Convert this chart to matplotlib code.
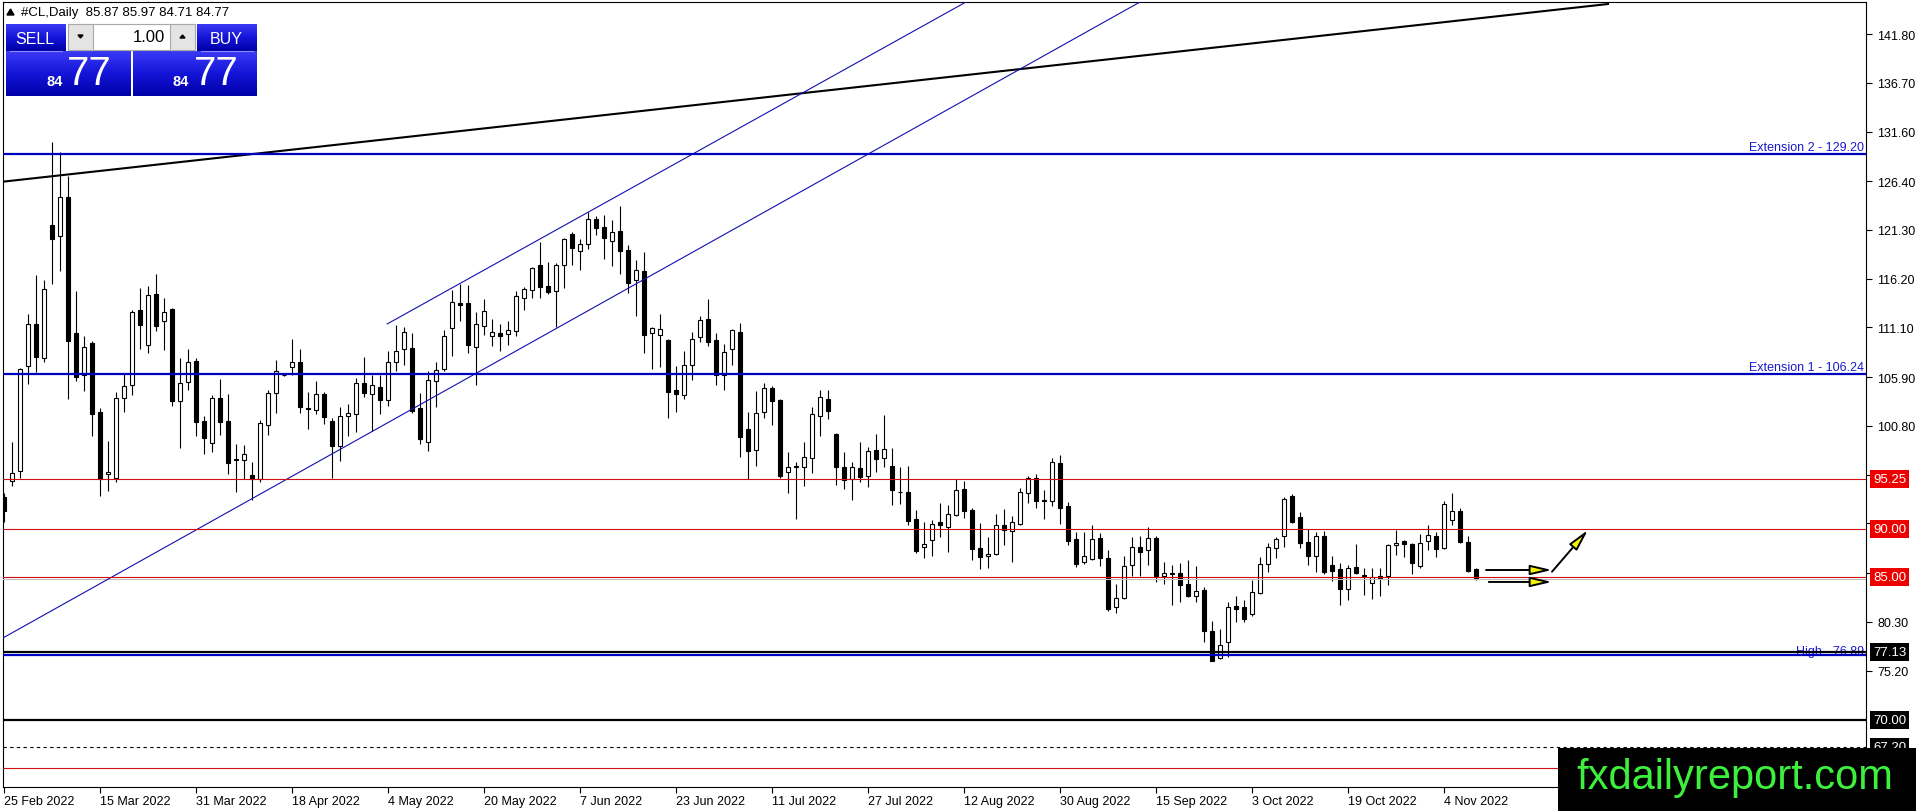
import matplotlib.pyplot as plt
import matplotlib.patches as patches
import matplotlib.transforms as mtransforms
import numpy as np

plt.rcParams['font.family'] = ['Liberation Sans', 'DejaVu Sans']

# Daily candles, #CL (bar 0 = 25 Feb 2022, bar 184 = 10 Nov 2022)
opens = [93.4, 95.0, 96.1, 107.1, 111.5, 107.9, 121.8, 120.7, 124.7, 110.5,
         106.1, 109.5, 102.3, 95.8, 95.4, 103.7, 105.1, 112.9, 109.3, 114.6,
         111.8, 113.0, 103.4, 105.4, 107.6, 101.3, 99.0, 103.7, 101.35, 97.3,
         97.2, 95.7, 95.25, 100.9, 104.2, 106.1, 107.0, 107.5, 102.7, 102.5,
         104.1, 101.35, 98.7, 101.8, 102.1, 105.3, 104.1, 104.9, 103.55, 107.5,
         108.8, 109.0, 102.7, 99.1, 105.5, 106.8, 111.0, 113.7, 113.7, 109.1,
         111.3, 110.2, 110.5, 110.45, 110.7, 114.2, 115.05, 117.6, 115.4, 114.9,
         117.6, 120.9, 119.1, 119.8, 122.5, 121.6, 120.2, 121.2, 119.2, 116.1,
         117.0, 110.5, 110.35, 109.8, 104.55, 104.0, 107.2, 110.1, 112.0, 109.8,
         106.1, 108.8, 110.6, 100.5, 98.3, 102.3, 104.8, 103.5, 96.0, 96.6,
         96.5, 97.45, 101.8, 103.6, 100.0, 96.5, 95.25, 96.4, 95.6, 98.3,
         97.4, 96.6, 93.9, 93.9, 91.1, 88.1, 88.9, 90.7, 90.2, 91.5,
         94.2, 92.0, 88.0, 87.2, 87.4, 90.4, 89.85, 90.55, 93.8, 95.4,
         93.1, 93.0, 96.9, 92.4, 89.0, 86.55, 86.9, 89.1, 87.0, 81.9,
         82.8, 86.3, 88.1, 87.8, 89.05, 85.15, 85.35, 85.4, 84.3, 83.05,
         83.65, 79.3, 76.5, 78.2, 81.95, 81.9, 81.1, 83.3, 86.4, 88.0,
         89.3, 93.45, 91.25, 88.7, 87.2, 89.25, 86.25, 85.85, 83.7, 86.0,
         85.15, 84.35, 85.1, 85.1, 88.3, 88.8, 88.45, 86.1, 88.75, 89.25,
         88.0, 91.0, 91.9, 88.65, 85.87]
highs = [93.8, 99.1, 106.9, 112.5, 116.6, 116.1, 130.5, 129.5, 126.9, 114.9,
         110.2, 109.7, 102.7, 99.2, 104.3, 106.2, 112.9, 115.2, 115.4, 116.7,
         114.2, 113.1, 107.9, 108.9, 107.9, 101.8, 104.0, 105.7, 104.1, 98.9,
         98.8, 97.0, 101.4, 104.6, 107.7, 106.3, 109.9, 108.9, 104.4, 105.5,
         104.3, 101.6, 102.8, 103.1, 105.8, 108.0, 106.1, 106.1, 108.6, 111.4,
         111.2, 110.5, 104.2, 106.5, 107.5, 110.8, 115.05, 115.6, 115.5, 112.7,
         114.1, 112.0, 111.5, 111.8, 114.9, 115.3, 117.4, 120.0, 118.0, 117.85,
         120.5, 121.1, 120.4, 123.2, 122.8, 122.9, 122.3, 123.8, 119.7, 118.2,
         119.0, 111.2, 112.5, 109.9, 107.1, 108.6, 110.6, 112.3, 114.1, 110.5,
         109.4, 110.9, 111.6, 102.3, 104.5, 105.3, 105.0, 103.6, 98.05, 97.0,
         99.1, 102.8, 104.6, 104.6, 100.1, 98.05, 97.0, 99.15, 98.6, 100.0,
         101.95, 98.5, 96.5, 96.6, 92.0, 90.8, 91.0, 92.7, 92.5, 95.2,
         95.0, 92.2, 90.65, 89.2, 91.6, 92.1, 91.4, 94.3, 95.6, 95.8,
         94.1, 97.45, 97.8, 92.8, 89.7, 89.7, 90.4, 89.6, 87.8, 84.3,
         87.2, 89.15, 89.3, 90.2, 89.3, 86.6, 86.3, 86.5, 86.8, 86.1,
         84.0, 80.4, 79.6, 82.4, 83.05, 82.6, 84.7, 87.1, 88.6, 89.15,
         93.4, 93.7, 91.8, 90.0, 89.7, 89.85, 87.2, 86.5, 86.3, 88.5,
         85.9, 85.95, 85.95, 88.45, 89.95, 88.9, 88.6, 89.5, 90.4, 89.75,
         92.9, 93.75, 92.2, 89.3, 85.97]
lows = [90.8, 94.5, 95.4, 105.2, 106.4, 107.5, 115.6, 117.0, 103.6, 105.5,
        104.5, 99.8, 93.5, 94.0, 94.9, 102.3, 104.0, 108.9, 108.4, 110.7,
        108.7, 102.9, 98.5, 104.6, 99.7, 97.9, 98.1, 99.85, 95.8, 93.9,
        95.3, 93.1, 94.9, 99.9, 102.2, 106.0, 106.1, 102.2, 100.5, 102.05,
        101.0, 95.4, 97.1, 99.8, 100.2, 103.8, 100.3, 102.1, 102.9, 106.5,
        107.2, 102.2, 98.9, 98.2, 102.75, 106.5, 108.15, 111.8, 108.4, 105.1,
        110.35, 109.2, 108.6, 109.3, 110.2, 112.9, 114.15, 114.2, 114.6, 111.2,
        115.2, 117.6, 117.15, 119.3, 120.8, 118.3, 117.5, 116.7, 114.7, 112.3,
        108.4, 106.8, 107.0, 101.6, 102.3, 103.6, 105.6, 109.6, 109.2, 105.1,
        104.6, 107.2, 97.5, 95.2, 96.6, 101.6, 100.9, 95.4, 93.8, 91.1,
        94.55, 95.9, 99.8, 101.5, 94.6, 94.2, 93.1, 94.9, 94.4, 96.0,
        96.5, 92.5, 92.6, 90.4, 87.5, 87.0, 87.2, 89.15, 87.65, 91.35,
        91.2, 86.8, 85.8, 85.9, 87.3, 88.35, 86.6, 90.4, 92.7, 92.2,
        91.1, 92.4, 90.55, 88.3, 86.0, 86.4, 86.8, 86.2, 81.4, 81.2,
        82.7, 85.1, 85.1, 86.3, 84.5, 84.3, 82.1, 82.4, 82.9, 82.4,
        78.2, 76.2, 76.4, 76.6, 80.3, 80.3, 80.9, 83.2, 85.5, 87.0,
        88.1, 90.6, 88.0, 86.3, 85.5, 85.3, 84.6, 82.1, 82.6, 85.3,
        83.1, 82.7, 83.05, 84.2, 87.3, 87.1, 85.3, 85.9, 87.8, 87.05,
        87.9, 90.45, 88.6, 85.55, 84.71]
closes = [91.9, 95.85, 106.8, 111.5, 108.05, 115.1, 120.4, 124.8, 109.7, 105.9,
          109.1, 102.0, 95.25, 96.0, 103.7, 105.0, 112.75, 111.4, 114.5, 111.3,
          112.75, 103.4, 105.3, 107.5, 101.2, 99.5, 103.7, 101.25, 96.9, 97.2,
          97.9, 95.2, 101.1, 104.25, 106.5, 106.15, 107.5, 102.75, 102.6, 104.1,
          101.7, 98.7, 101.8, 102.2, 105.3, 104.2, 105.1, 103.55, 107.5, 108.6,
          110.6, 102.4, 99.4, 105.6, 106.7, 110.2, 113.8, 113.5, 109.3, 111.5,
          112.8, 110.6, 110.2, 110.8, 114.4, 115.1, 117.3, 115.3, 114.85, 117.6,
          120.4, 119.4, 119.8, 122.4, 121.5, 120.5, 121.1, 119.1, 115.8, 117.1,
          110.35, 111.0, 110.9, 104.3, 104.1, 107.2, 109.9, 111.9, 109.6, 106.1,
          108.5, 110.8, 99.6, 98.15, 102.2, 104.8, 103.4, 95.6, 96.5, 96.55,
          97.5, 102.1, 103.8, 102.4, 96.5, 95.1, 96.5, 95.5, 98.15, 97.3,
          98.4, 94.1, 93.85, 90.9, 87.7, 88.5, 90.55, 90.45, 91.6, 94.1,
          91.9, 87.9, 87.1, 87.4, 90.4, 89.95, 90.8, 93.9, 95.4, 93.0,
          93.0, 97.0, 92.2, 88.8, 86.4, 87.2, 89.0, 87.0, 81.65, 82.8,
          86.1, 88.1, 87.65, 89.05, 85.1, 85.4, 85.3, 84.2, 83.05, 83.5,
          79.4, 76.25, 77.9, 81.9, 81.6, 80.6, 83.4, 86.4, 88.1, 89.0,
          93.2, 90.8, 88.6, 87.2, 89.3, 85.55, 85.65, 83.7, 85.9, 85.4,
          85.1, 84.95, 84.9, 88.35, 88.6, 88.4, 86.45, 88.6, 89.4, 87.95,
          92.6, 91.95, 88.7, 85.65, 84.77]

date_labels = ['25 Feb 2022', '15 Mar 2022', '31 Mar 2022', '18 Apr 2022',
               '4 May 2022', '20 May 2022', '7 Jun 2022', '23 Jun 2022',
               '11 Jul 2022', '27 Jul 2022', '12 Aug 2022', '30 Aug 2022',
               '15 Sep 2022', '3 Oct 2022', '19 Oct 2022', '4 Nov 2022']
date_bars = list(range(0, 181, 12))

price_ticks = [141.80, 136.70, 131.60, 126.40, 121.30, 116.20, 111.10, 105.90,
               100.80, 95.70, 90.60, 85.40, 80.30, 75.20]

# horizontal levels
ext_levels = [129.20, 106.24]
ext_names = ['Extension 2 - 129.20', 'Extension 1 - 106.24']
red_levels = [95.25, 90.00, 85.00, 65.00]
red_boxed = [95.25, 90.00, 85.00]
black_levels = [77.13, 70.00]
dashed_level = 67.20
high_level = 76.89
bid = closes[-1]

# drawn lines (bar index, price)
trend_x, trend_y = [-0.5, 200.5], [126.32, 144.94]
chan_low_x, chan_low_y = [-0.5, 142.0], [78.45, 145.15]
chan_up_x, chan_up_y = [47.9, 120.25], [111.47, 145.15]

# arrows: (start bar, start price, end bar, end price)
arrows = [(185.25, 85.73, 193.5, 85.73),
          (185.6, 84.48, 193.5, 84.48),
          (193.5, 85.55, 198.0, 89.92)]

W, H = 1916, 812
fig = plt.figure(figsize=(W / 100, H / 100), dpi=100)
ax = fig.add_axes([3 / W, 24 / H, 1863 / W, 785 / H])
ax.set_xlim(-0.125, 232.75)
ax.set_ylim(63.03, 145.15)

n = len(opens)
idx = np.arange(n)
o = np.array(opens); c = np.array(closes)
hi = np.array(highs); lo = np.array(lows)
up = c >= o

ax.vlines(idx, lo, hi, color='black', lw=0.8, zorder=2)
bottoms = np.minimum(o, c)
heights = np.maximum(np.abs(c - o), 0.08)
ax.bar(idx[up], heights[up], bottom=bottoms[up], width=0.6,
       color='white', edgecolor='black', linewidth=0.8, zorder=3)
ax.bar(idx[~up], heights[~up], bottom=bottoms[~up], width=0.6,
       color='black', edgecolor='black', linewidth=0.8, zorder=3)

# objects
ax.plot(trend_x, trend_y, color='black', lw=1.5, zorder=4)
ax.plot(chan_low_x, chan_low_y, color='#1010b0', lw=0.8, zorder=4)
ax.plot(chan_up_x, chan_up_y, color='#1010b0', lw=0.8, zorder=4)
for lv in ext_levels:
    ax.axhline(lv, color='#0000c0', lw=1.6, zorder=4)
for lv in red_levels:
    ax.axhline(lv, color='#d01010', lw=0.8, zorder=4)
ax.axhline(bid, color='#c0c0c0', lw=0.8, zorder=3.5)
for lv in black_levels:
    ax.axhline(lv, color='black', lw=1.6, zorder=4)
ax.axhline(high_level, color='#0000c0', lw=1.6, zorder=4)
ax.axhline(dashed_level, color='black', lw=0.8, ls=(0, (3, 3)), zorder=4)

for x0, y0, x1, y1 in arrows:
    ax.annotate('', xy=(x1, y1), xytext=(x0, y0),
                arrowprops=dict(arrowstyle='-|>,head_length=1.3,head_width=0.3',
                                fc='#f5f50a', ec='black', lw=1.4,
                                shrinkA=0, shrinkB=0), zorder=5)

for lv, name in zip(ext_levels, ext_names):
    ax.annotate(name, xy=(1, lv), xycoords=('axes fraction', 'data'),
                xytext=(-2, 1), textcoords='offset pixels', ha='right', va='bottom',
                color='#1a1ad0', fontsize=9, zorder=5)
ax.annotate(f'High - {high_level:.2f}', xy=(1, high_level),
            xycoords=('axes fraction', 'data'), xytext=(-2, -2),
            textcoords='offset pixels', ha='right', va='bottom',
            color='#1a1ad0', fontsize=9, zorder=3.9)

# axis styling
ax.yaxis.tick_right()
ax.set_yticks(price_ticks)
ax.set_yticklabels([f'{v:.2f}' for v in price_ticks])
ax.tick_params(axis='y', direction='out', length=4, width=0.8, pad=4,
               labelsize=9, colors='black')
ax.set_xticks(date_bars)
ax.set_xticklabels(date_labels, ha='left')
ax.tick_params(axis='x', direction='out', length=4, width=0.8, pad=2, labelsize=9)
for s in ax.spines.values():
    s.set_linewidth(0.8)

# price boxes on the right scale
def level_box(level, text, fc):
    ax.annotate(text, xy=(1, level), xycoords=('axes fraction', 'data'),
                xytext=(7, 0), textcoords='offset pixels', ha='left', va='center',
                color='white', fontsize=9.5, annotation_clip=False, zorder=6,
                bbox=dict(boxstyle='square,pad=0.22', fc=fc, ec='none'))

for lv in red_boxed:
    level_box(lv, f'{lv:.2f}', '#ee0000')
for lv in black_levels + [dashed_level]:
    level_box(lv, f'{lv:.2f}', 'black')

# overlay in pixel space for the trading panel and watermark
ov = fig.add_axes([0, 0, 1, 1], zorder=10)
ov.set_xlim(0, W)
ov.set_ylim(H, 0)
ov.axis('off')
ov.patch.set_alpha(0)

ov.add_patch(patches.Polygon([(7, 16), (14, 16), (10.5, 10)], closed=True,
                             color='black'))
ov.text(21, 13, f'#CL,Daily  {opens[-1]:.2f} {highs[-1]:.2f} {lows[-1]:.2f} {closes[-1]:.2f}',
        fontsize=9.5, va='center', ha='left', color='black')

grad = np.linspace(0, 1, 64).reshape(-1, 1)
blues = plt.matplotlib.colors.LinearSegmentedColormap.from_list(
    'btn', ['#3a3af5', '#1414d8', '#0000a8'])


def gbox(x, y, w, h):
    ov.imshow(grad, cmap=blues, extent=(x, x + w, y + h, y), aspect='auto',
              interpolation='bilinear', zorder=1)


gbox(6, 25, 60, 27)
gbox(197, 25, 60, 27)
gbox(6, 52, 125, 45)
gbox(133, 52, 124, 45)
ov.plot([10, 62], [51.5, 51.5], color='#8c8cff', lw=0.8, zorder=2)
ov.plot([201, 253], [51.5, 51.5], color='#8c8cff', lw=0.8, zorder=2)
ov.add_patch(patches.Rectangle((68, 25), 127, 26, fc='white', ec='#a8a8a8', lw=0.8, zorder=2))
ov.add_patch(patches.Rectangle((68, 25), 25, 26, fc='#e4e4e4', ec='#a8a8a8', lw=0.8, zorder=2))
ov.add_patch(patches.Rectangle((170, 25), 25, 26, fc='#e4e4e4', ec='#a8a8a8', lw=0.8, zorder=2))
ov.add_patch(patches.Polygon([(78, 36), (83, 36), (80.5, 39)], closed=True, color='black', zorder=3))
ov.add_patch(patches.Polygon([(180, 39), (185, 39), (182.5, 36)], closed=True, color='black', zorder=3))
ov.text(165, 38, '1.00', fontsize=12, ha='right', va='center', color='black', zorder=3)
ov.text(35, 39, 'SELL', fontsize=11.5, ha='center', va='center', color='white', zorder=3)
ov.text(226, 39, 'BUY', fontsize=11.5, ha='center', va='center', color='white', zorder=3)
for bx in (55, 181):
    ov.text(bx, 82, '84', fontsize=10.5, fontweight='bold', ha='center', va='center',
            color='white', zorder=3)
for bx in (89.5, 216):
    ov.text(bx, 74, '77', fontsize=29, ha='center', va='center', color='white', zorder=3)

ov.add_patch(patches.Rectangle((1558, 749), W - 1558, H - 749, fc='black', ec='none', zorder=4))
ov.text(1576, 789, 'fxdailyreport.com', fontsize=30, color='#3df03d',
        ha='left', va='baseline', zorder=5)

fig.savefig('out.png', dpi=100)
